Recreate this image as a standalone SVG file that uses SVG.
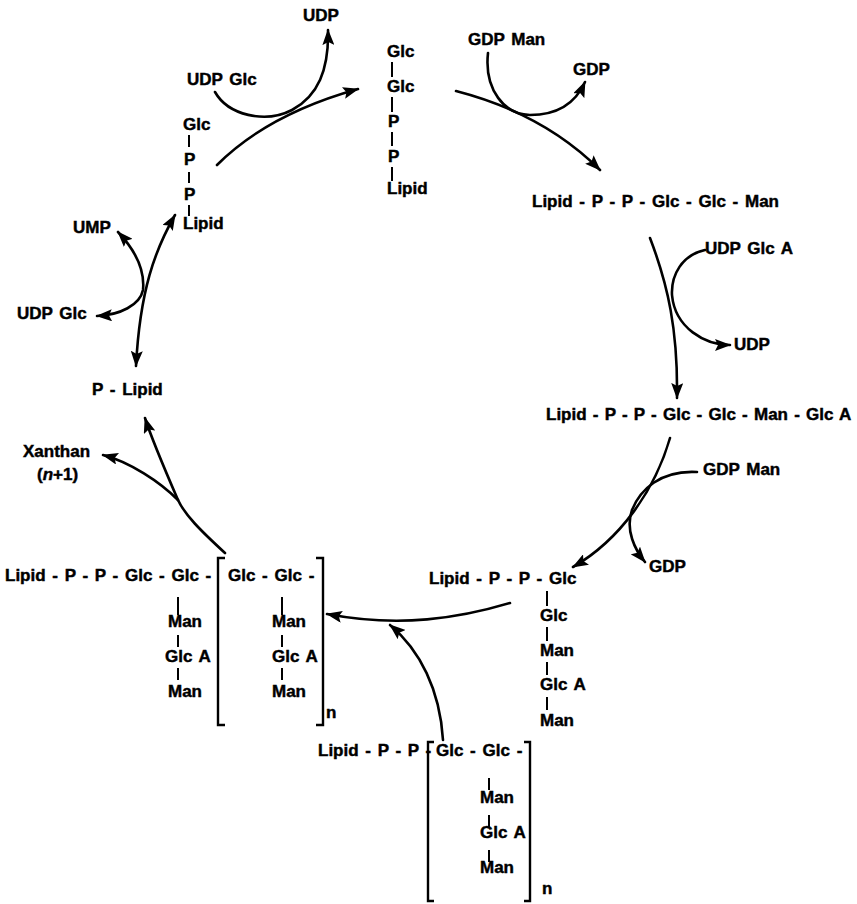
<svg xmlns="http://www.w3.org/2000/svg" width="857" height="904" viewBox="0 0 857 904">
<defs>
<marker id="ah" viewBox="0 0 16 12" refX="15" refY="6" markerWidth="16" markerHeight="12" markerUnits="userSpaceOnUse" orient="auto-start-reverse">
<path d="M0,0 L16,6 L0,12 L3,6 Z" fill="#000"/>
</marker>
<style>
text{font-family:"Liberation Sans",Arial,sans-serif;font-weight:bold;font-size:17px;fill:#000;stroke:#000;stroke-width:0.45px;word-spacing:2px}
.bar{stroke:#000;stroke-width:2;fill:none}
.c{stroke:#000;stroke-width:2.6;fill:none;stroke-linecap:round}
.e{marker-end:url(#ah)}
.b{marker-start:url(#ah);marker-end:url(#ah)}
.br{stroke:#000;stroke-width:2.4;fill:none}
</style>
</defs>
<rect width="857" height="904" fill="#fff"/>

<g id="connectors">
<path class="c e" d="M217,165 C245,137 290,108 358,89"/>
<path class="c e" d="M215,92 C228,115 265,124 292,110 C318,96 329,70 328,30"/>
<path class="c e" d="M488,53 C484,90 505,115 530,115 C558,115 576,102 585,82"/>
<path class="c e" d="M456,91 C510,105 560,130 600,170"/>
<path class="c e" d="M650,238 C668,285 678,330 677,398"/>
<path class="c e" d="M705,250 C682,255 671,275 672,295 C675,328 705,345 730,345"/>
<path class="c e" d="M670,438 C655,490 620,540 573,567"/>
<path class="c e" d="M697,472 C660,470 640,490 632,510 C625,530 635,550 645,562"/>
<path class="c e" d="M510,603 C460,618 400,628 327,614"/>
<path class="c e" d="M443,740 C440,690 420,650 390,625"/>
<path class="c b" d="M175,215 C155,250 140,290 136,366"/>
<path class="c b" d="M118,232 C135,250 145,270 143,290 C140,305 120,315 97,316"/>
<path class="c" d="M225,553 C200,530 185,515 178,500"/>
<path class="c e" d="M178,500 C165,470 152,440 145,418"/>
<path class="c e" d="M178,500 C160,482 130,462 103,455"/>
</g>

<g id="udp-top"><text x="303" y="21">UDP</text></g>
<g id="udpglc-top"><text x="187" y="85">UDP Glc</text></g>

<g id="glc-p-p-lipid">
<text x="183" y="130">Glc</text>
<text x="184" y="165">P</text>
<text x="184" y="200">P</text>
<text x="183" y="229">Lipid</text>
<path class="bar" d="M189,135 V147 M189,172 V183 M189,205 V216"/>
</g>

<g id="glc-glc-p-p-lipid">
<text x="387" y="57">Glc</text>
<text x="387" y="92">Glc</text>
<text x="388" y="127">P</text>
<text x="388" y="162">P</text>
<text x="387" y="194">Lipid</text>
<path class="bar" d="M392,62 V77 M392,97 V112 M392,132 V146 M392,167 V181"/>
</g>

<g id="gdpman-top"><text x="468" y="45">GDP Man</text></g>
<g id="gdp-top"><text x="573" y="75">GDP</text></g>

<g id="lipid-man"><text x="532" y="207">Lipid - P - P - Glc - Glc - Man</text></g>
<g id="udpglca"><text x="705" y="254">UDP Glc A</text></g>
<g id="udp-right"><text x="734" y="350">UDP</text></g>
<g id="lipid-glca"><text x="546" y="420" style="word-spacing:1.5px">Lipid - P - P - Glc - Glc - Man - Glc A</text></g>
<g id="gdpman-right"><text x="703" y="475">GDP Man</text></g>
<g id="gdp-right"><text x="649" y="572">GDP</text></g>

<g id="lipid-branched">
<text x="429" y="584">Lipid - P - P - Glc</text>
<text x="540" y="621">Glc</text>
<text x="540" y="656">Man</text>
<text x="540" y="690">Glc A</text>
<text x="540" y="726">Man</text>
<path class="bar" d="M547,591 V606 M547,627 V641 M547,662 V675 M547,697 V710"/>
</g>

<g id="lipid-polymer-n1">
<text x="5" y="581">Lipid - P - P - Glc - Glc -</text>
<text x="168" y="627">Man</text>
<text x="165" y="662">Glc A</text>
<text x="168" y="697">Man</text>
<path class="bar" d="M178,597 V615 M178,635 V647 M178,668 V680"/>
<path class="br" d="M225,558 H218 V725 H225"/>
<text x="228" y="581">Glc - Glc -</text>
<text x="272" y="627">Man</text>
<text x="272" y="662">Glc A</text>
<text x="272" y="697">Man</text>
<path class="bar" d="M282,597 V615 M282,635 V647 M282,668 V680"/>
<path class="br" d="M316,558 H323 V725 H316"/>
<text x="326" y="718">n</text>
</g>

<g id="lipid-polymer-n">
<text x="318" y="756">Lipid - P - P -</text>
<path class="br" d="M434,742 H428 V901 H434"/>
<text x="436" y="756">Glc - Glc -</text>
<text x="480" y="803">Man</text>
<text x="480" y="838">Glc A</text>
<text x="480" y="873">Man</text>
<path class="bar" d="M489,778 V790 M489,815 V827 M489,850 V862"/>
<path class="br" d="M524,742 H530 V901 H524"/>
<text x="542" y="894">n</text>
</g>

<g id="ump"><text x="73" y="233">UMP</text></g>
<g id="udpglc-left"><text x="17" y="319">UDP Glc</text></g>
<g id="p-lipid"><text x="92" y="395">P - Lipid</text></g>
<g id="xanthan">
<text x="23" y="457">Xanthan</text>
<text x="37" y="480">(<tspan font-style="italic">n</tspan>+1)</text>
</g>
</svg>
